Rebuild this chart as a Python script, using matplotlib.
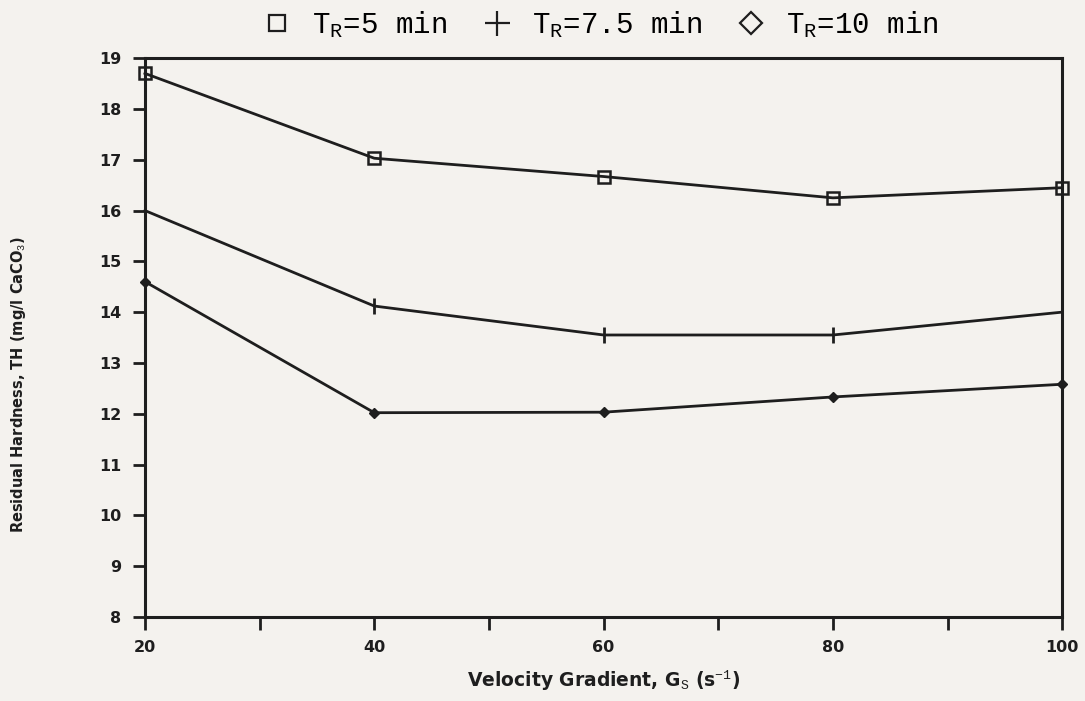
import matplotlib
matplotlib.use("Agg")
import matplotlib.pyplot as plt
from matplotlib.lines import Line2D

# velocity gradient (1/s) and residual hardness for each retention time
gradient = [20, 40, 60, 80, 100]
th_5min = [18.7, 17.03, 16.67, 16.25, 16.45]
th_7_5min = [16.0, 14.12, 13.55, 13.55, 14.0]
th_10min = [14.6, 12.02, 12.03, 12.33, 12.58]

legend_labels = ["T$_R$=5 min", "T$_R$=7.5 min", "T$_R$=10 min"]
xticks = [20, 30, 40, 50, 60, 70, 80, 90, 100]
xticklabels = ["20", "", "40", "", "60", "", "80", "", "100"]
yticks = list(range(8, 20))

plt.rcParams["mathtext.fontset"] = "custom"
plt.rcParams["mathtext.rm"] = "Liberation Mono"
plt.rcParams["mathtext.it"] = "Liberation Mono"

ink = "#1e1e1e"
fig = plt.figure(figsize=(10.85, 7.01), dpi=100, facecolor="#f4f2ee")
ax = fig.add_axes([0.1336, 0.120, 0.979 - 0.1336, 0.917 - 0.120])
ax.set_facecolor("#f4f2ee")

ax.plot(gradient, th_5min, color=ink, lw=2.0, marker="s", ms=8,
        mfc="none", mec=ink, mew=1.8, clip_on=False)
ax.plot(gradient, th_7_5min, color=ink, lw=2.0, marker="|", ms=12,
        mec=ink, mew=2.0, clip_on=False)
ax.plot(gradient, th_10min, color=ink, lw=2.0, marker="D", ms=5,
        mfc=ink, mec=ink, clip_on=False)

ax.set_xlim(20, 100)
ax.set_ylim(8, 19)
ax.set_xticks(xticks)
ax.set_xticklabels(xticklabels, fontsize=11.5, fontweight="bold", color=ink)
ax.set_yticks(yticks)
ax.set_yticklabels([str(v) for v in yticks], fontsize=11.5, fontweight="bold", color=ink)
ax.tick_params(axis="both", direction="out", length=9, width=2.0, color=ink, pad=8)
for s in ax.spines.values():
    s.set_linewidth(2.2)
    s.set_color(ink)

ax.set_xlabel("Velocity Gradient, G$_S$ (s$^{-1}$)", fontsize=13.5, fontweight="bold",
              color=ink, labelpad=9)
fig.text(0.017, 0.451, "Residual Hardness, TH (mg/l CaCO$_3$)", rotation=90,
         fontsize=10.5, fontweight="bold", color=ink, ha="center", va="center")

handles = [
    Line2D([], [], ls="none", marker="s", ms=12, mfc="none", mec=ink, mew=1.6),
    Line2D([], [], ls="none", marker="+", ms=18, mec=ink, mew=1.6),
    Line2D([], [], ls="none", marker="D", ms=11, mfc="none", mec=ink, mew=1.6),
]
fig.legend(handles, legend_labels, loc="upper center", bbox_to_anchor=(0.555, 1.025),
           ncol=3, frameon=False, handlelength=0.8, handletextpad=0.8,
           columnspacing=1.3, prop={"family": "Liberation Mono", "size": 21})

fig.savefig("out.png", dpi=100, facecolor=fig.get_facecolor())
